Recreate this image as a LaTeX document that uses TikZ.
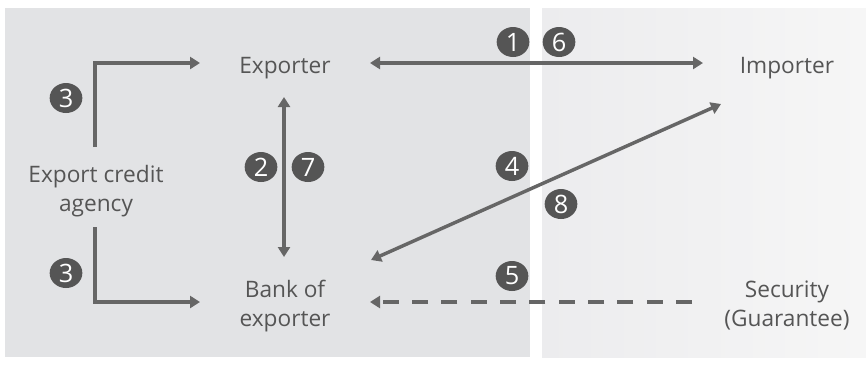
\documentclass[tikz,border=0pt]{standalone}
\usepackage{fontspec}
\setmainfont{Open Sans}
\usetikzlibrary{arrows.meta,shapes.geometric}
\definecolor{panelL}{HTML}{E2E3E5}
\definecolor{panelRa}{HTML}{ECECEE}
\definecolor{panelRb}{HTML}{F6F6F6}
\definecolor{ink}{HTML}{555555}
\definecolor{wire}{HTML}{666666}
\definecolor{disc}{HTML}{555555}
\tikzset{
  party/.style={text=ink, font=\fontsize{17}{21.5}\selectfont, align=center,
                inner sep=0pt, anchor=base},
  num/.style={ellipse, fill=disc, text=white, minimum width=24.5pt, minimum height=22.5pt,
              inner sep=0pt, font=\fontsize{19}{19}\selectfont},
  flow/.style={draw=wire, line width=2.6pt, >={Triangle[length=7.5pt,width=9pt]}, ->},
  both/.style={flow, <->},
  dashflow/.style={flow, dash pattern=on 12pt off 10pt}
}
\begin{document}
\begin{tikzpicture}[x=0.75pt,y=-0.75pt]
  % canvas and the two regions
  \fill[white] (0,0) rectangle (866,365);
  \fill[panelL] (5,8) rectangle (530,357);
  \shade[left color=panelRa, right color=panelRb] (542,8) rectangle (866,357);
  \useasboundingbox (0,0) rectangle (866,365);

  % parties (placed on their last baseline)
  \node[party] (exp)  at (285,73)  {Exporter};
  \node[party] (imp)  at (787,73)  {Importer};
  \node[party] (eca)  at (96,211)  {Export credit\\agency};
  \node[party] (bank) at (285,326) {Bank of\\exporter};
  \node[party] (sec)  at (787,326) {Security\\(Guarantee)};

  % connector ends
  \coordinate (ecaTop) at (95,147);
  \coordinate (ecaBot) at (95,227);
  \coordinate (expIn)  at (200,63);
  \coordinate (bankIn) at (200,302);
  \coordinate (expR)   at (370,63);
  \coordinate (impL)   at (703,63);
  \coordinate (expB)   at (284,97);
  \coordinate (bankT)  at (284,257);
  \coordinate (bankNE) at (371,260);
  \coordinate (impSW)  at (721,104);
  \coordinate (secL)   at (692,302);
  \coordinate (bankR)  at (370,302);

  % agency supports exporter and bank
  \draw[flow] (ecaTop) |- (expIn);
  \draw[flow] (ecaBot) |- (bankIn);

  % exporter <-> importer
  \draw[both] (expR) -- (impL);
  % exporter <-> bank
  \draw[both] (expB) -- (bankT);
  % bank <-> importer
  \draw[both] (bankNE) -- (impSW);
  % security to bank
  \draw[dashflow] (secL) -- (bankR);

  % step numbers
  \node[num] (n1)  at (513,42)  {1};
  \node[num] (n6)  at (559,42)  {6};
  \node[num] (n3a) at (66,98)   {3};
  \node[num] (n3b) at (66,273)  {3};
  \node[num] (n2)  at (261,167) {2};
  \node[num] (n7)  at (308,167) {7};
  \node[num] (n4)  at (512,166) {4};
  \node[num] (n8)  at (561,204) {8};
  \node[num] (n5)  at (512,276) {5};
\end{tikzpicture}
\end{document}
